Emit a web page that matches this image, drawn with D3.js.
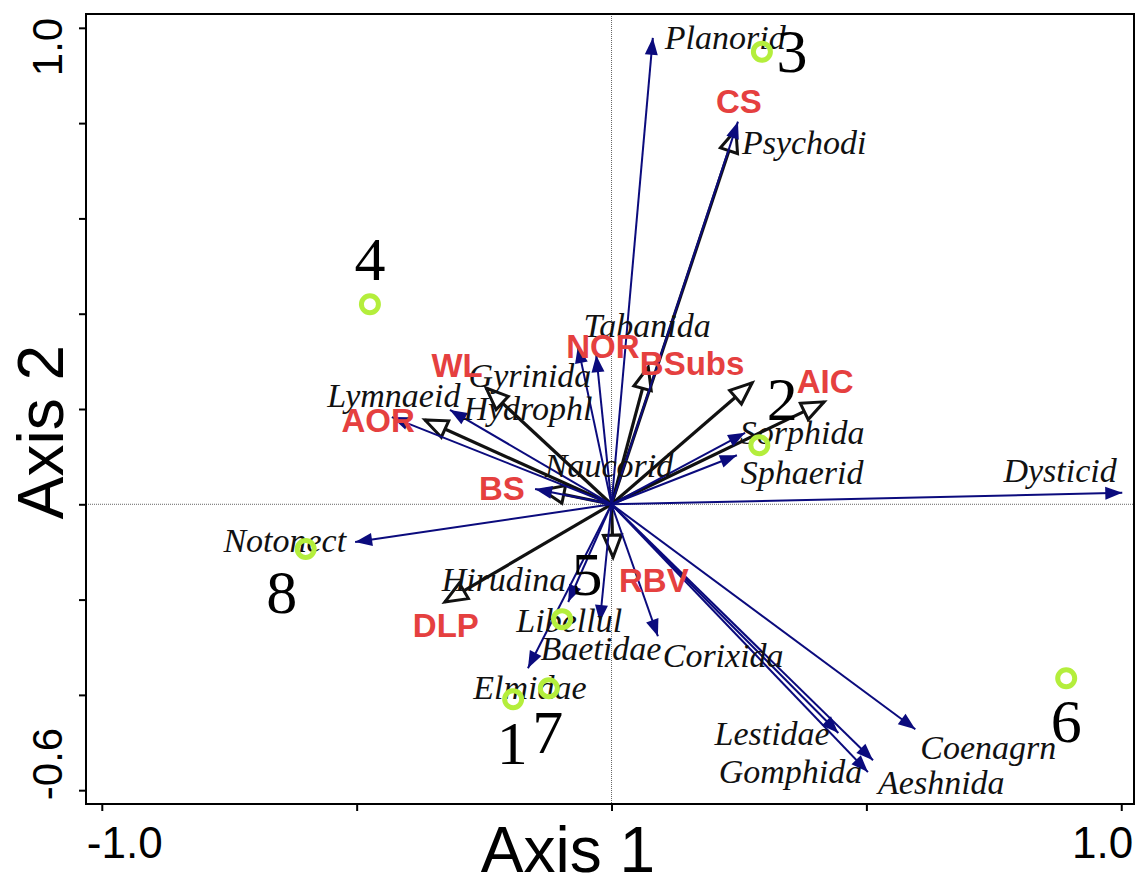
<!DOCTYPE html>
<html>
<head>
<meta charset="utf-8">
<script src="https://cdn.jsdelivr.net/npm/d3@7"></script>
<style>
  body { margin: 0; background: #fff; }
  svg { display: block; }
</style>
</head>
<body>
<svg id="chart" width="1138" height="876"></svg>
<script>
// species vectors (navy arrows), null = no arrow drawn
var speciesNames = ["Planorid","Psychodi","Tabanida","Gyrinida","Hydrophl","Lymnaeid","Naucorid","Sorphida","Sphaerid","Dysticid",
                    "Notonect","Hirudina","Libellul","Baetidae","Corixida","Elmidae","Lestidae","Gomphida","Aeshnida","Coenagrn"];
var speciesX = [0.081,0.248,-0.030,-0.066,-0.317,-0.431,-0.150,0.262,0.246,1.002,
                -0.503,-0.085,-0.023,null,0.091,-0.164,0.445,0.503,0.513,0.596];
var speciesY = [0.979,0.803,0.313,0.332,0.198,0.183,0.032,0.150,0.103,0.024,
                -0.079,-0.205,-0.247,null,-0.277,-0.344,-0.480,-0.562,-0.537,-0.472];
var speciesLabelX = [0.223,0.378,0.070,-0.160,-0.164,-0.427,-0.005,0.374,0.374,0.880,
                     -0.641,-0.211,-0.083,-0.021,0.219,-0.160,0.315,0.351,0.647,0.739];
var speciesLabelY = [0.956,0.736,0.352,0.247,0.177,0.204,0.057,0.127,0.043,0.047,
                     -0.100,-0.182,-0.268,-0.327,-0.342,-0.409,-0.505,-0.585,-0.608,-0.535];

// environmental vectors (black open arrows)
var envNames = ["CS","NOR","BSubs","AIC","WL","AOR","BS","DLP","RBV"];
var envX = [0.244,0.072,0.276,0.417,-0.246,-0.366,-0.136,-0.327,0.003];
var envY = [0.786,0.288,0.255,0.215,0.244,0.177,0.030,-0.205,-0.111];
var envLabelX = [0.250,-0.017,0.158,0.419,-0.303,-0.458,-0.215,-0.325,0.083];
var envLabelY = [0.822,0.307,0.271,0.234,0.267,0.152,0.009,-0.279,-0.184];

// sites
var siteIds = ["1","2","3","4","5","6","7","8"];
var siteX = [-0.193,0.290,0.295,-0.474,-0.097,0.892,-0.123,-0.600];
var siteY = [-0.409,0.124,0.950,0.420,-0.241,-0.365,-0.386,-0.094];
var siteLabelX = [-0.195,0.335,0.354,-0.474,-0.048,0.892,-0.125,-0.647];
var siteLabelY = [-0.545,0.177,0.908,0.471,-0.190,-0.499,-0.522,-0.228];

var xTicks = [-1.0,-0.5,0,0.5,1.0];
var yTicks = [1.0,0.8,0.6,0.4,0.2,0,-0.2,-0.4,-0.6];

var svg = d3.select("#chart");
var pLeft = 86, pRight = 1134, pTop = 14, pBottom = 804;

var x = d3.scaleLinear().domain([-1.031, 1.025]).range([pLeft, pRight]);
var y = d3.scaleLinear().domain([-0.629, 1.029]).range([pBottom, pTop]);

var sans = "'Liberation Sans', Arial, sans-serif",
    serif = "'Liberation Serif', 'Times New Roman', serif";

var navy = "#0b0b7d", red = "#e5403f", lime = "#b4ee3c";

// arrow heads
var defs = svg.append("defs");
defs.append("marker")
    .attr("id", "headNavy")
    .attr("markerUnits", "userSpaceOnUse")
    .attr("viewBox", "-20 -10 22 20")
    .attr("refX", 0).attr("refY", 0)
    .attr("markerWidth", 22).attr("markerHeight", 20)
    .attr("orient", "auto")
  .append("path")
    .attr("d", "M-17,-6.5L0,0L-17,6.5Z")
    .attr("fill", navy);
defs.append("marker")
    .attr("id", "headOpen")
    .attr("markerUnits", "userSpaceOnUse")
    .attr("viewBox", "-28 -14 32 28")
    .attr("refX", 0).attr("refY", 0)
    .attr("markerWidth", 32).attr("markerHeight", 28)
    .attr("orient", "auto")
  .append("path")
    .attr("d", "M-22,-9L0,0L-22,9Z")
    .attr("fill", "#fff")
    .attr("stroke", "#111")
    .attr("stroke-width", 3)
    .attr("stroke-linejoin", "miter");

// zero lines
svg.append("line")
    .attr("x1", x(0)).attr("x2", x(0))
    .attr("y1", pTop).attr("y2", pBottom)
    .attr("stroke", "#666").attr("stroke-width", 1)
    .attr("stroke-dasharray", "1,1");
svg.append("line")
    .attr("x1", pLeft).attr("x2", pRight)
    .attr("y1", y(0)).attr("y2", y(0))
    .attr("stroke", "#666").attr("stroke-width", 1)
    .attr("stroke-dasharray", "1,1");

// environmental arrows
var env = envNames.map(function(n, i) {
  return {name: n, x: envX[i], y: envY[i], lx: envLabelX[i], ly: envLabelY[i]};
});
svg.append("g").selectAll("line")
  .data(env)
  .enter().append("line")
    .attr("x1", x(0)).attr("y1", y(0))
    .attr("x2", function(d) { return x(d.x); })
    .attr("y2", function(d) { return y(d.y); })
    .attr("stroke", "#111")
    .attr("stroke-width", 3.2)
    .attr("marker-end", "url(#headOpen)");

// species arrows
var species = speciesNames.map(function(n, i) {
  return {name: n, x: speciesX[i], y: speciesY[i], lx: speciesLabelX[i], ly: speciesLabelY[i]};
});
svg.append("g").selectAll("line")
  .data(species.filter(function(d) { return d.x !== null; }))
  .enter().append("line")
    .attr("x1", x(0)).attr("y1", y(0))
    .attr("x2", function(d) { return x(d.x); })
    .attr("y2", function(d) { return y(d.y); })
    .attr("stroke", navy)
    .attr("stroke-width", 2)
    .attr("marker-end", "url(#headNavy)");

// species labels
svg.append("g").selectAll("text")
  .data(species)
  .enter().append("text")
    .attr("x", function(d) { return x(d.lx); })
    .attr("y", function(d) { return y(d.ly); })
    .attr("text-anchor", "middle")
    .attr("font-family", serif)
    .attr("font-style", "italic")
    .attr("font-size", 34)
    .attr("fill", "#111")
    .text(function(d) { return d.name; });

// env labels
svg.append("g").selectAll("text")
  .data(env)
  .enter().append("text")
    .attr("x", function(d) { return x(d.lx); })
    .attr("y", function(d) { return y(d.ly); })
    .attr("text-anchor", "middle")
    .attr("font-family", sans)
    .attr("font-weight", "bold")
    .attr("font-size", 33)
    .attr("fill", red)
    .text(function(d) { return d.name; });

// sites
var sites = siteIds.map(function(n, i) {
  return {id: n, x: siteX[i], y: siteY[i], lx: siteLabelX[i], ly: siteLabelY[i]};
});
svg.append("g").selectAll("circle")
  .data(sites)
  .enter().append("circle")
    .attr("cx", function(d) { return x(d.x); })
    .attr("cy", function(d) { return y(d.y); })
    .attr("r", 8.5)
    .attr("fill", "none")
    .attr("stroke", lime)
    .attr("stroke-width", 5);
svg.append("g").selectAll("text")
  .data(sites)
  .enter().append("text")
    .attr("x", function(d) { return x(d.lx); })
    .attr("y", function(d) { return y(d.ly); })
    .attr("text-anchor", "middle")
    .attr("font-family", serif)
    .attr("font-size", 62)
    .attr("fill", "#000")
    .text(function(d) { return d.id; });

// axes
svg.append("g")
    .attr("transform", "translate(0," + pBottom + ")")
    .call(d3.axisBottom(x).tickValues(xTicks).tickSize(7).tickFormat(""))
    .call(function(g) { g.select(".domain").remove(); })
    .selectAll("line").attr("stroke", "#000").attr("stroke-width", 2);
svg.append("g")
    .attr("transform", "translate(" + pLeft + ",0)")
    .call(d3.axisLeft(y).tickValues(yTicks).tickSize(7).tickFormat(""))
    .call(function(g) { g.select(".domain").remove(); })
    .selectAll("line").attr("stroke", "#000").attr("stroke-width", 2);

svg.append("rect")
    .attr("x", pLeft).attr("y", pTop)
    .attr("width", pRight - pLeft).attr("height", pBottom - pTop)
    .attr("fill", "none")
    .attr("stroke", "#000")
    .attr("stroke-width", 2);

// tick labels (only ends are labelled)
svg.append("text")
    .attr("x", x(-1.0) - 15).attr("y", 858)
    .attr("text-anchor", "start")
    .attr("font-family", sans).attr("font-size", 44)
    .text("-1.0");
svg.append("text")
    .attr("x", x(1.0) + 12).attr("y", 858)
    .attr("text-anchor", "end")
    .attr("font-family", sans).attr("font-size", 44)
    .text("1.0");
svg.append("text")
    .attr("transform", "translate(62," + (y(1.0) - 10) + ") rotate(-90)")
    .attr("text-anchor", "end")
    .attr("font-family", sans).attr("font-size", 42)
    .text("1.0");
svg.append("text")
    .attr("transform", "translate(62," + (y(-0.6) + 10) + ") rotate(-90)")
    .attr("text-anchor", "start")
    .attr("font-family", sans).attr("font-size", 42)
    .text("-0.6");

// axis titles
svg.append("text")
    .attr("x", 568).attr("y", 872)
    .attr("text-anchor", "middle")
    .attr("font-family", sans).attr("font-size", 64)
    .text("Axis 1");
svg.append("text")
    .attr("transform", "translate(63,432) rotate(-90)")
    .attr("text-anchor", "middle")
    .attr("font-family", sans).attr("font-size", 64)
    .text("Axis 2");
</script>
</body>
</html>
